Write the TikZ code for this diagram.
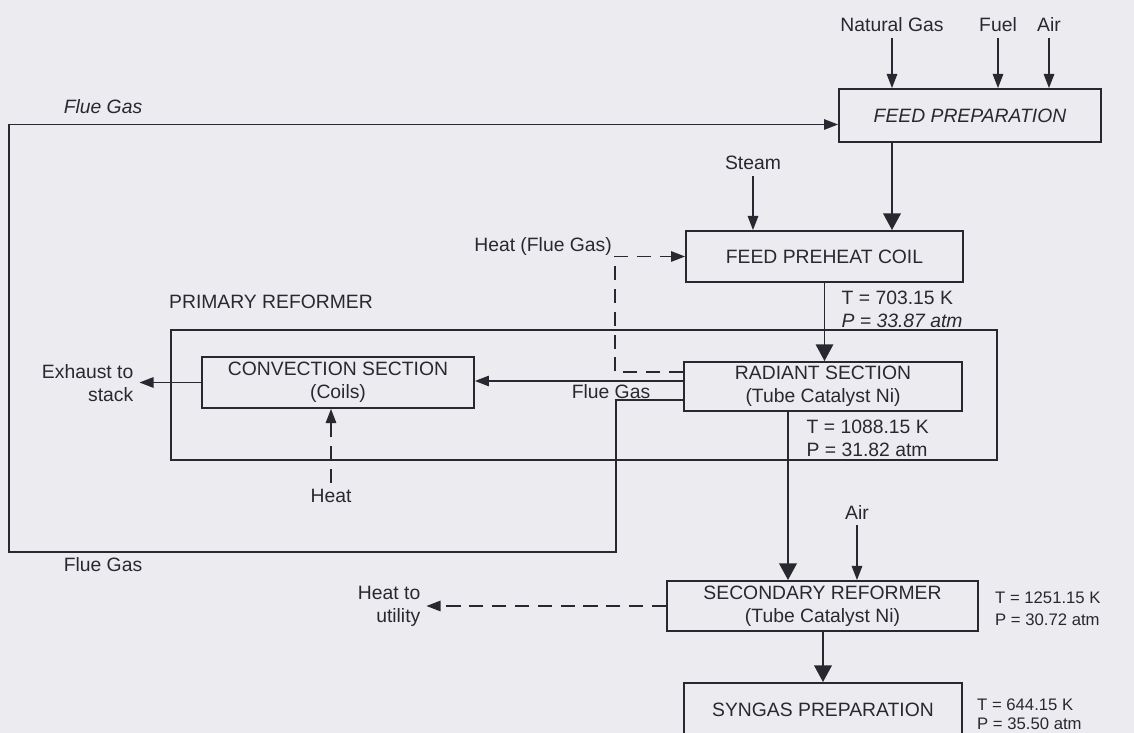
\documentclass[tikz,border=0pt]{standalone}
\usepackage{fontspec}
\setmainfont{Liberation Sans}
\usetikzlibrary{arrows.meta,calc}
\definecolor{LineClr}{RGB}{40,40,48}
\definecolor{PaperClr}{RGB}{236,236,240}
\newcommand{\lblfont}{\fontsize{11}{13}\selectfont}
\newcommand{\sidefont}{\fontsize{9.5}{12.5}\selectfont}
\newcommand{\tightfont}{\fontsize{9.5}{11}\selectfont}

\begin{document}
\begin{tikzpicture}[x=0.02cm,y=-0.02cm,
  every node/.style={text=LineClr,font=\lblfont},
  box/.style={draw=LineClr,line width=1.1pt,inner sep=0pt,align=center},
  flow/.style={draw=LineClr,line width=0.7pt,-{Triangle[length=8pt,width=6pt]}},
  main/.style={draw=LineClr,line width=1.2pt,-{Triangle[length=9.5pt,width=10pt]}},
  heatflow/.style={flow,dash pattern=on 8pt off 5pt}]
\useasboundingbox (0,0) rectangle (1134,733);
\fill[PaperClr] (0,0) rectangle (1134,733);
\clip (0,0) rectangle (1134,733);

\node[box,minimum width=5.24cm,minimum height=1.06cm,font=\lblfont\itshape] (prep) at (970,115.5) {FEED PREPARATION};
\node[box,minimum width=5.54cm,minimum height=1.02cm] (preheat) at (824.5,256.5) {FEED PREHEAT COIL};
\node[draw=LineClr,line width=0.8pt,minimum width=16.52cm,minimum height=2.6cm] (primary) at (584,395) {};
\node[box,minimum width=5.56cm,minimum height=0.98cm] (radiant) at (823,386.5) {RADIANT SECTION\\(Tube Catalyst Ni)};
\node[box,minimum width=5.44cm,minimum height=1.02cm] (conv) at (338,382.5) {CONVECTION SECTION\\(Coils)};
\node[box,minimum width=6.22cm,minimum height=1cm] (second) at (822.5,606) {SECONDARY REFORMER\\(Tube Catalyst Ni)};
\node[box,minimum width=5.56cm,minimum height=1.08cm] (syngas) at (823,710) {SYNGAS PREPARATION};

\node (ngl) at (892,25) {Natural Gas};
\node (fuel) at (998,25) {Fuel};
\node (air) at (1049,25) {Air};
\node (steam) at (753,163) {Steam};
\node (air2) at (857,512) {Air};
\node[anchor=east] (hfg) at (618,247) {Heat (Flue Gas)};
\node (prl) at (271,302) {PRIMARY REFORMER};
\node[font=\lblfont\itshape] (fgtop) at (103,107) {Flue Gas};
\node (fgbot) at (103,565) {Flue Gas};
\node (fgmid) at (611,392) {Flue Gas};
\node[align=right,anchor=east] (exh) at (139.5,383) {Exhaust to\\stack};
\node (heat) at (331,496) {Heat};
\node[align=right,anchor=east] (util) at (426.5,606) {Heat to\\utility};
\node[align=left,anchor=west] (tpa) at (835.5,309) {T = 703.15 K\\\textit{P = 33.87 atm}};
\node[align=left,anchor=west] (tpb) at (800.5,438) {T = 1088.15 K\\P = 31.82 atm};
\node[align=left,anchor=west,font=\sidefont] (tpc) at (989,609) {T = 1251.15 K\\P = 30.72 atm};
\node[align=left,anchor=west,font=\tightfont] (tpd) at (971,714) {T = 644.15 K\\P = 35.50 atm};

\draw[flow] (ngl) -- (ngl |- prep.north);
\draw[flow] (fuel) -- (fuel |- prep.north);
\draw[flow] (air) -- (air |- prep.north);
\draw[main] (ngl |- prep.south) -- (ngl |- preheat.north);
\draw[flow] (steam) -- (steam |- preheat.north);
\draw[main,line width=0.8pt] (preheat.south) -- (preheat.south |- radiant.north);

\coordinate (hsrc) at ($(radiant.west)+(0,-14.5)$);
\coordinate (fsrc) at ($(radiant.west)+(0,-5.5)$);
\coordinate (lsrc) at ($(radiant.west)+(0,13.5)$);
\coordinate (fgA) at (616,552);
\coordinate (fgB) at (9,552);
\draw[heatflow] (hsrc) -| ($(preheat.west)+(-70,0)$) -- (preheat.west);
\draw[flow] (fsrc) -- (conv.east |- fsrc);
\draw[flow] (conv.west) -- (conv.west -| exh.east);
\draw[heatflow] (heat) -- (heat |- conv.south);
\draw[flow] (lsrc) -| (fgA) -- (fgB) |- ($(prep.west)+(0,9)$);

\coordinate (rout) at ($(radiant.south)+(-35,0)$);
\draw[main] (rout) -- (rout |- second.north);
\draw[flow] (air2) -- (air2 |- second.north);
\draw[heatflow] (second.west) -- (second.west -| util.east);
\draw[main] (second.south -| syngas) -- (syngas.north);
\end{tikzpicture}
\end{document}
